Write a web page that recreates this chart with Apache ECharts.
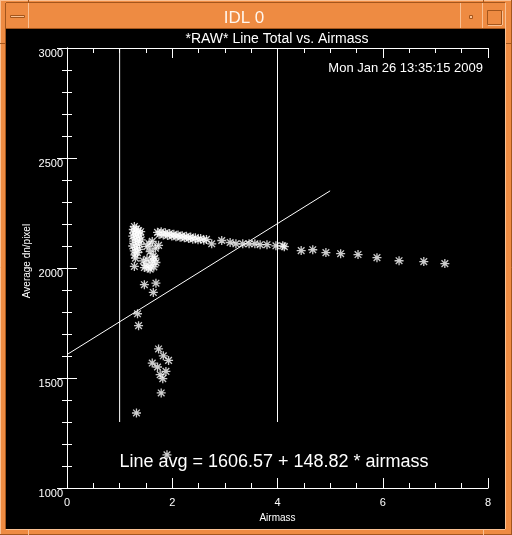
<!DOCTYPE html>
<html>
<head>
<meta charset="utf-8">
<script src="https://cdn.jsdelivr.net/npm/echarts@6/dist/echarts.min.js"></script>
<style>
html,body{margin:0;padding:0;background:#000;}
#chart{width:512px;height:535px;}
</style>
</head>
<body>
<div id="chart"></div>
<script>
// ---- data ----
const airmass = [
  // left column
  1.28,1.26,1.32,1.36,1.40,1.27,1.33,1.38,1.25,1.30,1.36,1.41,1.27,1.33,1.38,1.25,1.31,1.37,1.28,1.34,1.29,1.30,1.28,
  // second cluster
  1.62,1.74,1.52,1.58,1.64,1.56,1.68,1.45,1.50,1.55,1.60,1.65,1.69,1.52,1.62,1.47,1.58,1.67,
  // dense band
  1.72,1.75,1.79,1.83,1.87,1.91,1.95,1.99,2.03,2.07,2.11,2.15,2.19,2.23,2.27,2.31,2.35,2.39,2.44,2.49,2.54,2.60,2.65,
  // stars after the band
  2.75,2.94,3.10,3.21,3.34,3.46,3.57,3.67,3.80,3.97,4.10,
  // right tail
  4.13,4.45,4.67,4.92,5.20,5.53,5.89,6.31,6.78,7.18,
  // lower points
  1.47,1.69,1.64,1.34,1.36,1.74,1.83,1.93,1.62,1.72,1.88,1.77,1.82,1.79,1.32,1.90
];
const lineTotal = [
  2189,2175,2178,2170,2165,2160,2155,2150,2145,2138,2132,2128,2122,2115,2108,2100,2093,2085,2078,2070,2060,2045,2007,
  2121,2103,2098,2075,2053,2110,2090,2032,2012,2000,2018,2005,2025,2040,2035,2002,1995,2045,
  2162,2152,2165,2150,2160,2148,2157,2145,2153,2142,2150,2140,2147,2137,2144,2134,2141,2131,2138,2128,2134,2126,2130,
  2110,2125,2116,2110,2110,2110,2110,2106,2106,2101,2101,
  2097,2079,2083,2070,2065,2061,2047,2033,2029,2020,
  1924,1931,1889,1792,1738,1632,1601,1580,1568,1550,1530,1515,1497,1432,1341,1151
];
const fitLine = [[0, 1606.57], [5, 2350.67]];
const markerLow = [[1, 1300], [1, 3000]];
const markerHigh = [[4, 1300], [4, 3000]];
const xRange = [0, 8];
const yRange = [1000, 3000];
const titleText = '*RAW* Line Total vs. Airmass';
const dateText = 'Mon Jan 26 13:35:15 2009';
const fitText = 'Line avg = 1606.57 + 148.82 * airmass';
const xTitle = 'Airmass';
const yTitle = 'Average dn/pixel';

const points = airmass.map((a, i) => [a, lineTotal[i]]);

const FONT = 'Liberation Sans, Arial, sans-serif';
const WHITE = '#ffffff';
const OR = '#ee8b42', LIGHT = '#f9c093', DARK = '#a4561c';

function axisBase(pos, showLabel, isX) {
  return {
    type: 'value',
    position: pos,
    min: isX ? xRange[0] : yRange[0],
    max: isX ? xRange[1] : yRange[1],
    interval: isX ? 2 : 500,
    axisLine: { show: true, lineStyle: { color: WHITE, width: 1 } },
    axisTick: { show: true, inside: true, length: 10, lineStyle: { color: WHITE, width: 1 } },
    minorTick: { show: true, splitNumber: isX ? 4 : 5, length: 5, lineStyle: { color: WHITE, width: 1 } },
    splitLine: { show: false },
    minorSplitLine: { show: false },
    axisLabel: showLabel ? {
      show: true, color: WHITE, fontFamily: FONT, fontSize: 11,
      margin: isX ? 9 : 4,
      verticalAlign: 'top',
      formatter: (v) => String(v)
    } : { show: false }
  };
}

const xBottom = Object.assign(axisBase('bottom', true, true), {
  name: xTitle, nameLocation: 'middle', nameGap: 20,
  nameTextStyle: { color: WHITE, fontFamily: FONT, fontSize: 10 }
});
const xTop = axisBase('top', false, true);
const yLeft = axisBase('left', true, false);
const yRight = axisBase('right', false, false);

const frame = [
  { type: 'rect', shape: { x: 0, y: 0, width: 512, height: 29 }, style: { fill: OR } },
  { type: 'rect', shape: { x: 0, y: 0, width: 6, height: 535 }, style: { fill: OR } },
  { type: 'rect', shape: { x: 505, y: 0, width: 7, height: 535 }, style: { fill: OR } },
  { type: 'rect', shape: { x: 0, y: 529, width: 512, height: 6 }, style: { fill: OR } },
  { type: 'line', shape: { x1: 0, y1: 0.5, x2: 512, y2: 0.5 }, style: { stroke: LIGHT, lineWidth: 1 } },
  { type: 'line', shape: { x1: 0.5, y1: 0, x2: 0.5, y2: 535 }, style: { stroke: LIGHT, lineWidth: 1 } },
  { type: 'line', shape: { x1: 511.5, y1: 0, x2: 511.5, y2: 535 }, style: { stroke: DARK, lineWidth: 1 } },
  { type: 'line', shape: { x1: 0, y1: 534.5, x2: 512, y2: 534.5 }, style: { stroke: DARK, lineWidth: 1 } },
  { type: 'line', shape: { x1: 6, y1: 2.5, x2: 505, y2: 2.5 }, style: { stroke: DARK, lineWidth: 1 } },
  { type: 'line', shape: { x1: 6, y1: 28.5, x2: 505, y2: 28.5 }, style: { stroke: DARK, lineWidth: 1 } },
  { type: 'line', shape: { x1: 5.5, y1: 3, x2: 5.5, y2: 529 }, style: { stroke: DARK, lineWidth: 1 } },
  { type: 'line', shape: { x1: 505.5, y1: 3, x2: 505.5, y2: 529 }, style: { stroke: LIGHT, lineWidth: 1 } },
  { type: 'line', shape: { x1: 6, y1: 529.5, x2: 505, y2: 529.5 }, style: { stroke: LIGHT, lineWidth: 1 } },
  { type: 'line', shape: { x1: 28.5, y1: 3, x2: 28.5, y2: 28 }, style: { stroke: LIGHT, lineWidth: 1 } },
  { type: 'line', shape: { x1: 460.5, y1: 3, x2: 460.5, y2: 28 }, style: { stroke: LIGHT, lineWidth: 1 } },
  { type: 'line', shape: { x1: 482.5, y1: 3, x2: 482.5, y2: 28 }, style: { stroke: LIGHT, lineWidth: 1 } },
  { type: 'line', shape: { x1: 28.5, y1: 0, x2: 28.5, y2: 3 }, style: { stroke: DARK, lineWidth: 1 } },
  { type: 'line', shape: { x1: 483.5, y1: 0, x2: 483.5, y2: 3 }, style: { stroke: DARK, lineWidth: 1 } },
  { type: 'line', shape: { x1: 28.5, y1: 530, x2: 28.5, y2: 535 }, style: { stroke: LIGHT, lineWidth: 1 } },
  { type: 'line', shape: { x1: 483.5, y1: 530, x2: 483.5, y2: 535 }, style: { stroke: LIGHT, lineWidth: 1 } },
  { type: 'line', shape: { x1: 0, y1: 43.5, x2: 5, y2: 43.5 }, style: { stroke: DARK, lineWidth: 1 } },
  { type: 'line', shape: { x1: 506, y1: 43.5, x2: 512, y2: 43.5 }, style: { stroke: DARK, lineWidth: 1 } },
  { type: 'rect', shape: { x: 10.5, y: 15.5, width: 14, height: 2 }, style: { fill: LIGHT, stroke: DARK, lineWidth: 1 } },
  { type: 'rect', shape: { x: 469.5, y: 15.5, width: 3, height: 3 }, style: { fill: LIGHT, stroke: DARK, lineWidth: 1 } },
  { type: 'rect', shape: { x: 487.5, y: 10.5, width: 14, height: 14 }, style: { fill: OR, stroke: DARK, lineWidth: 1 } },
  { type: 'line', shape: { x1: 488, y1: 25.5, x2: 502, y2: 25.5 }, style: { stroke: LIGHT, lineWidth: 1 } },
  { type: 'line', shape: { x1: 502.5, y1: 11, x2: 502.5, y2: 25 }, style: { stroke: LIGHT, lineWidth: 1 } },
  { type: 'text', x: 244, y: 18, style: { text: 'IDL 0', fill: '#fff6ee', font: '17px ' + FONT, align: 'center', verticalAlign: 'middle' } },
  { type: 'text', x: 277, y: 39, style: { text: titleText, fill: WHITE, font: '14px ' + FONT, align: 'center', verticalAlign: 'middle' } },
  { type: 'text', x: 483, y: 68, style: { text: dateText, fill: WHITE, font: '13px ' + FONT, align: 'right', verticalAlign: 'middle' } },
  { type: 'text', x: 274, y: 462, style: { text: fitText, fill: WHITE, font: '18px ' + FONT, align: 'center', verticalAlign: 'middle' } },
  { type: 'text', x: 27, y: 261, rotation: Math.PI / 2, style: { text: yTitle, fill: WHITE, font: '10px ' + FONT, align: 'center', verticalAlign: 'middle' } }
];

const STAR = 'path://M5,0L5,10M0,5L10,5M1.3,1.3L8.7,8.7M1.3,8.7L8.7,1.3';

const option = {
  backgroundColor: '#000',
  animation: false,
  grid: { left: 67, right: 24, top: 48, bottom: 47, containLabel: false },
  xAxis: [xBottom, xTop],
  yAxis: [yLeft, yRight],
  graphic: { elements: frame },
  series: [
    { type: 'line', data: markerLow, showSymbol: false, silent: true, lineStyle: { color: WHITE, width: 1 } },
    { type: 'line', data: markerHigh, showSymbol: false, silent: true, lineStyle: { color: WHITE, width: 1 } },
    { type: 'line', data: fitLine, showSymbol: false, silent: true, lineStyle: { color: WHITE, width: 1 } },
    {
      type: 'scatter', data: points, symbol: STAR, symbolSize: 9, silent: true,
      itemStyle: { color: 'none', borderColor: WHITE, borderWidth: 1.3 }
    }
  ]
};

const chart = echarts.init(document.getElementById('chart'), null, { renderer: 'canvas' });
chart.setOption(option);
</script>
</body>
</html>
